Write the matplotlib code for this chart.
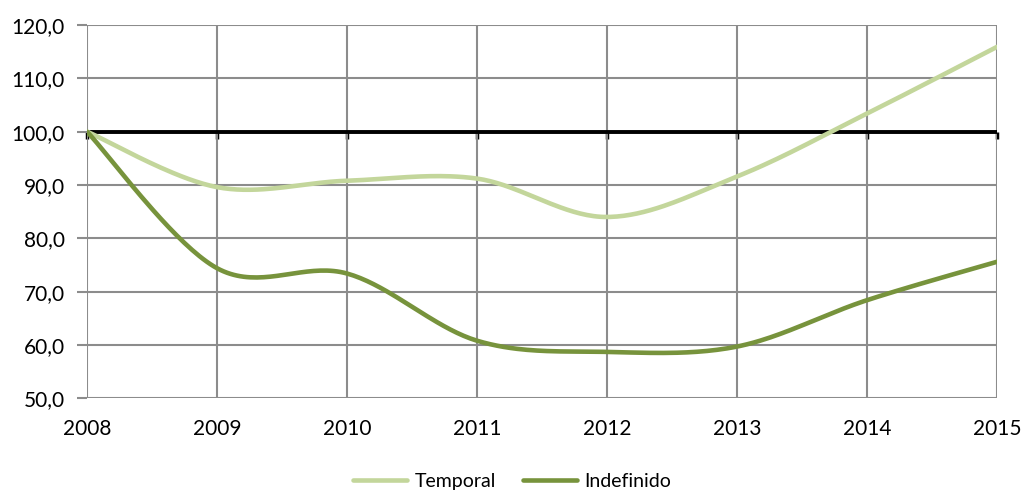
import numpy as np
import matplotlib
matplotlib.use("Agg")
import matplotlib.pyplot as plt
from matplotlib.ticker import FuncFormatter

plt.rcParams['font.family'] = ['Lato', 'DejaVu Sans']

years = [2008, 2009, 2010, 2011, 2012, 2013, 2014, 2015]
temporal = [100.0, 89.6, 90.8, 91.2, 84.0, 91.6, 103.4, 115.9]
indefinido = [100.0, 74.4, 73.4, 60.8, 58.7, 59.7, 68.4, 75.6]
series_names = ["Temporal", "Indefinido"]
colors = ["#C3D69B", "#77933C"]
baseline = 100.0


def smooth(xs, ys, n=40):
    """Excel-style smoothed line: cubic Bezier through the data points."""
    x = np.asarray(xs, float)
    y = np.asarray(ys, float)
    pts = np.column_stack([x, y])
    m = len(pts)
    out = []
    for i in range(m - 1):
        p0 = pts[i - 1] if i > 0 else pts[i]
        p1 = pts[i]
        p2 = pts[i + 1]
        p3 = pts[i + 2] if i + 2 < m else pts[i + 1]
        c1 = p1 + (p2 - p0) / 6.0
        c2 = p2 - (p3 - p1) / 6.0
        t = np.linspace(0, 1, n)[:, None]
        seg = ((1 - t) ** 3) * p1 + 3 * ((1 - t) ** 2) * t * c1 + 3 * (1 - t) * t ** 2 * c2 + t ** 3 * p2
        out.append(seg if i == 0 else seg[1:])
    s = np.vstack(out)
    return s[:, 0], s[:, 1]


fig = plt.figure(figsize=(10.24, 4.9), dpi=100)
ax = fig.add_axes([87 / 1024, 1 - 398.3 / 490, (997 - 87) / 1024, (398.3 - 25) / 490])

ax.set_xlim(2008, 2015)
ax.set_ylim(50, 120)
ax.set_xticks(years)
ax.set_yticks(np.arange(50, 121, 10))
ax.yaxis.set_major_formatter(FuncFormatter(lambda v, p: f"{v:.1f}".replace(".", ",")))
ax.grid(True, color="#8C8C8C", linewidth=1.5)
ax.set_axisbelow(True)
for s in ax.spines.values():
    s.set_visible(False)
ax.tick_params(axis="y", length=7, width=1.5, color="#8C8C8C", pad=9, labelsize=15, labelcolor="#000000")
ax.tick_params(axis="x", length=0, pad=15, labelsize=15, labelcolor="#000000")

# horizontal axis crossing at 100
ax.axhline(baseline, color="black", linewidth=2.8, zorder=2)
sec = ax.secondary_xaxis((baseline - 50) / 70)
sec.set_xticks(years)
sec.xaxis.set_ticks_position("bottom")
sec.tick_params(axis="x", direction="out", length=5, width=2.5, color="black",
                labelbottom=False, labeltop=False)
for s in sec.spines.values():
    s.set_visible(False)

for name, vals, c in zip(series_names, [temporal, indefinido], colors):
    sx, sy = smooth(years, vals)
    ax.plot(sx, sy, color=c, linewidth=3.3, solid_capstyle="round", label=name, zorder=3)

leg = fig.legend(loc="lower center", bbox_to_anchor=(0.5, -0.035), ncol=2, frameon=False,
                 fontsize=14, handlelength=2.8, handletextpad=0.35, columnspacing=1.4)

fig.savefig("out.png", dpi=100)
